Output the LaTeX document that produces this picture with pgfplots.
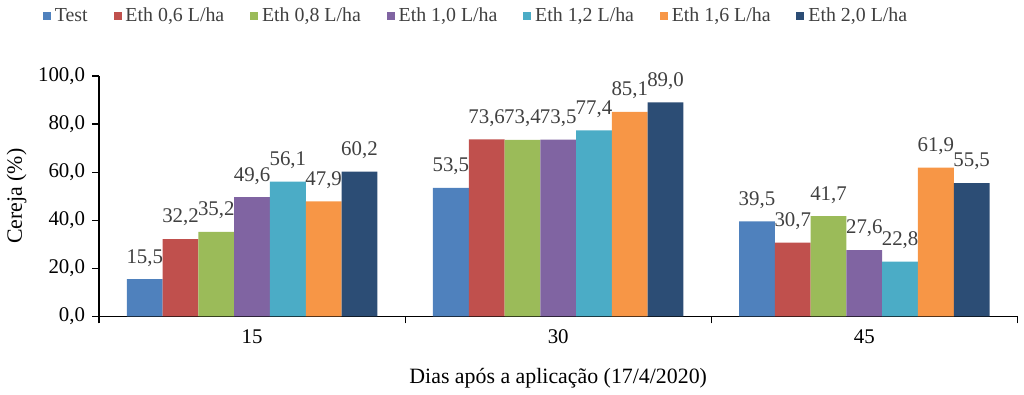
\documentclass[border=0pt]{standalone}
\usepackage{fontspec}
\setmainfont{Liberation Serif}
\usepackage{pgfplots}
\pgfplotsset{compat=1.18}
\definecolor{c1}{HTML}{4F81BD}
\definecolor{c2}{HTML}{C0504D}
\definecolor{c3}{HTML}{9BBB59}
\definecolor{c4}{HTML}{8064A2}
\definecolor{c5}{HTML}{4BACC6}
\definecolor{c6}{HTML}{F79646}
\definecolor{c7}{HTML}{2C4D75}
\definecolor{lbl}{HTML}{404040}
\begin{document}
\begin{tikzpicture}
\begin{axis}[
  scale only axis,
  width=462pt, height=121pt,
  xmin=-0.5, xmax=2.5, ymin=0, ymax=100,
  axis x line*=bottom, axis y line*=left,
  ybar=0pt, bar width=18pt,
  xtick={-0.5,0.5,1.5,2.5}, xticklabels={},
  extra x ticks={0,1,2}, extra x tick labels={15,30,45},
  extra x tick style={major tick length=0pt},
  ytick={0,20,40,60,80,100},
  tick align=outside, major tick length=3.5pt,
  tick style={black, line width=0.6pt},
  axis line style={line width=0.6pt},
  /pgf/number format/assume math mode=true,
  yticklabel style={/pgf/number format/.cd, fixed, fixed zerofill, precision=1, use comma},
  ticklabel style={font=\fontsize{10.5}{12}\selectfont},
  xticklabel style={yshift=-3pt},
  xlabel={Dias após a aplicação (17/4/2020)},
  ylabel={Cereja (\%)},
  xlabel style={yshift=-2pt},
  ylabel style={yshift=-1pt},
  label style={font=\fontsize{11}{13}\selectfont},
  nodes near coords,
  nodes near coords style={font=\fontsize{10.5}{12}\selectfont, text=lbl, yshift=3pt,
    /pgf/number format/.cd, fixed, fixed zerofill, precision=1, use comma, assume math mode=true},
  legend style={draw=none, fill=none, at={(-0.068,1.248)}, anchor=west,
    legend columns=-1, font=\fontsize{10}{12}\selectfont, text=lbl,
    /tikz/every even column/.append style={column sep=11pt}},
  legend image code/.code={\fill[#1] (0pt,-2pt) rectangle (4pt,2pt);},
  every axis plot/.append style={draw=none},
]
\addplot[fill=c1] coordinates {(0,15.5) (1,53.5) (2,39.5)};
\addplot[fill=c2] coordinates {(0,32.2) (1,73.6) (2,30.7)};
\addplot[fill=c3] coordinates {(0,35.2) (1,73.4) (2,41.7)};
\addplot[fill=c4] coordinates {(0,49.6) (1,73.5) (2,27.6)};
\addplot[fill=c5] coordinates {(0,56.1) (1,77.4) (2,22.8)};
\addplot[fill=c6] coordinates {(0,47.9) (1,85.1) (2,61.9)};
\addplot[fill=c7] coordinates {(0,60.2) (1,89.0) (2,55.5)};
\legend{Test, {Eth 0,6 L/ha}, {Eth 0,8 L/ha}, {Eth 1,0 L/ha}, {Eth 1,2 L/ha}, {Eth 1,6 L/ha}, {Eth 2,0 L/ha}}
\end{axis}
\end{tikzpicture}
\end{document}
